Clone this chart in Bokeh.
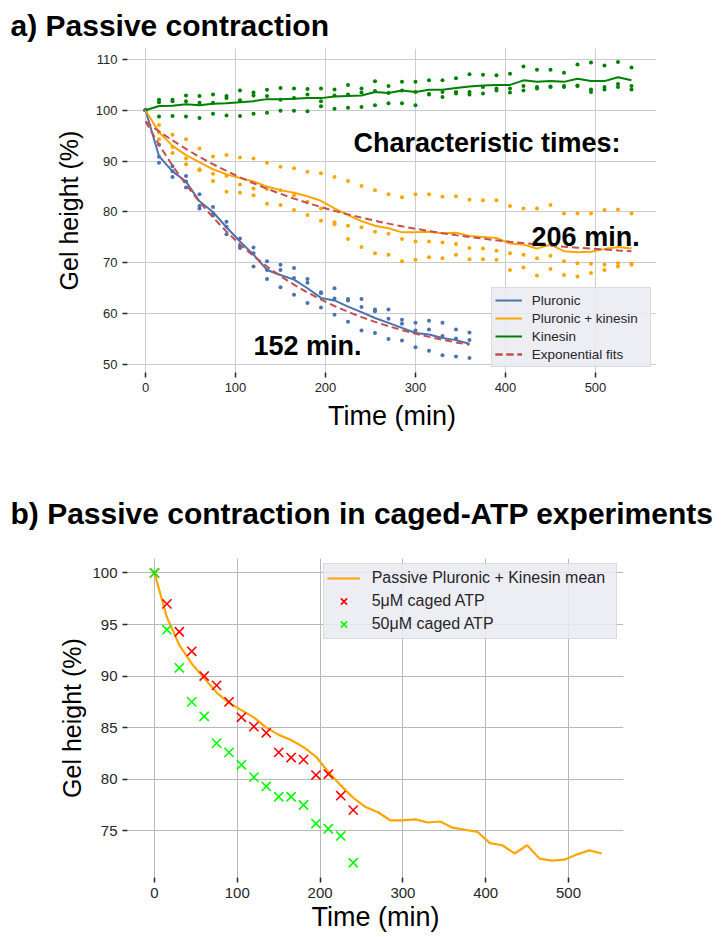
from bokeh.plotting import figure
from bokeh.models import Range1d, Legend, LegendItem, Label
from bokeh.layouts import column
from bokeh.embed import file_html
from bokeh.resources import INLINE

FONT = "Liberation Sans"
TXT = "#262626"

# ---------------- data: panel a ----------------
time_full = [0, 15, 30, 45, 60, 75, 90, 105, 120, 135, 150, 165, 180, 195, 210, 225, 240, 255,
             270, 285, 300, 315, 330, 345, 360, 375, 390, 405, 420, 435, 450, 465, 480, 495, 510, 525, 540]
time_pluronic = [0, 15, 30, 45, 60, 75, 90, 105, 120, 135, 150, 165, 180, 195, 210, 225, 240, 255,
                 270, 285, 300, 315, 330, 345, 360]

pluronic_mean = [100, 91.0, 88.0, 86.0, 82.1, 80.0, 77.0, 74.2, 71.6, 68.6, 67.6, 66.7, 65.0, 63.1,
                 62.6, 61.4, 60.3, 59.15, 58.2, 57.2, 56.2, 55.9, 55.2, 54.8, 54.1]
pluronic_rep1 = [100, 93.3, 89.0, 87.1, 83.5, 81.0, 78.1, 74.8, 73.0, 70.3, 69.6, 69.0, 66.8, 64.2,
                 65.0, 62.9, 62.9, 60.8, 60.8, 58.8, 58.2, 58.6, 58.2, 56.9, 56.3]
pluronic_rep2 = [100, 90.85, 88.0, 86.0, 81.2, 79.7, 77.1, 73.3, 71.9, 68.6, 68.6, 67.0, 66.1, 64.0,
                 63.0, 62.6, 61.3, 60.5, 59.0, 58.0, 56.7, 56.9, 55.6, 55.1, 54.8]
pluronic_rep3 = [100, 89.7, 86.9, 84.8, 80.7, 79.3, 75.6, 72.9, 69.3, 66.8, 65.2, 63.7, 62.1, 61.2,
                 59.8, 58.4, 56.7, 56.2, 55.0, 54.7, 53.4, 52.7, 51.8, 51.6, 51.3]
pluronic_fit = [97.8, 93.24, 89.12, 85.38, 82.0, 78.93, 76.15, 73.63, 71.35, 69.28, 67.40, 65.71,
                64.17, 62.77, 61.51, 60.37, 59.33, 58.39, 57.54, 56.77, 56.07, 55.44, 54.87, 54.35, 53.88]

kinesin_pl_mean = [100, 95.7, 93.0, 91.2, 89.8, 88.4, 87.4, 86.7, 86.0, 85.0, 84.3, 83.8, 83.1, 82.2,
                   80.7, 79.4, 78.2, 77.3, 76.8, 76.0, 76.0, 76.1, 75.8, 75.9, 75.3, 75.1, 74.9, 73.8,
                   73.6, 72.8, 73.6, 72.3, 72.1, 72.2, 72.7, 73.1, 72.8]
kinesin_pl_rep1 = [100, 97.1, 95.2, 94.3, 92.5, 90.9, 91.2, 90.7, 90.5, 89.7, 88.9, 88.6, 87.9, 87.6,
                   86.9, 86.1, 85.1, 84.3, 83.5, 82.9, 83.5, 83.5, 83.0, 83.1, 82.4, 82.3, 82.3, 81.2,
                   80.7, 80.7, 81.4, 79.7, 79.7, 79.7, 80.4, 80.5, 79.7]
kinesin_pl_rep2 = [100, 95.7, 92.8, 90.5, 88.4, 87.5, 87.1, 85.4, 84.6, 84.5, 84.3, 83.3, 82.0, 80.7,
                   78.0, 77.3, 77.0, 76.1, 75.7, 74.7, 74.2, 74.2, 74.0, 73.7, 72.9, 72.8, 72.4, 71.9,
                   71.6, 70.9, 71.4, 70.3, 69.9, 69.8, 69.6, 69.9, 69.8]
kinesin_pl_rep3 = [100, 94.3, 91.6, 89.4, 88.2, 86.1, 84.0, 83.8, 83.3, 81.6, 81.4, 80.4, 79.4, 78.3,
                   77.6, 74.7, 73.1, 71.9, 71.6, 70.3, 70.6, 71.1, 70.9, 71.6, 70.7, 70.7, 70.6, 68.6,
                   69.1, 67.5, 68.8, 67.6, 67.3, 68.0, 68.6, 69.3, 69.6]
kinesin_pl_fit = [97.80, 95.87, 94.07, 92.40, 90.85, 89.41, 88.07, 86.82, 85.66, 84.58, 83.58, 82.64,
                  81.78, 80.97, 80.22, 79.53, 78.88, 78.28, 77.71, 77.19, 76.71, 76.26, 75.84, 75.45,
                  75.09, 74.75, 74.44, 74.15, 73.88, 73.63, 73.39, 73.18, 72.98, 72.79, 72.61, 72.45, 72.30]

kinesin_mean = [100, 100.85, 100.9, 101.2, 101.0, 101.3, 101.4, 101.6, 101.8, 102.2, 102.2, 102.3,
                102.4, 102.4, 102.7, 102.8, 102.9, 103.6, 103.4, 103.9, 103.6, 104.05, 104.05, 104.4,
                104.7, 104.9, 105.0, 105.0, 105.9, 105.6, 105.75, 105.6, 106.2, 105.75, 105.75, 106.5, 105.9]
kinesin_rep1 = [100, 102.1, 102.1, 102.9, 102.8, 103.1, 102.8, 103.9, 103.5, 104.05, 104.4, 104.3,
                104.2, 104.3, 104.1, 105.0, 104.3, 105.7, 104.8, 105.6, 105.6, 105.9, 105.9, 106.3,
                107.1, 107.0, 106.9, 107.2, 108.6, 108.0, 108.0, 107.4, 109.0, 109.4, 108.8, 109.5, 108.4]
kinesin_rep2 = [100, 101.6, 101.8, 101.8, 101.5, 101.5, 102.4, 102.0, 102.9, 102.8, 102.1, 102.4,
                103.1, 101.8, 102.9, 103.1, 103.5, 103.8, 103.4, 103.9, 103.6, 103.1, 103.6, 103.6,
                103.6, 104.6, 104.3, 104.3, 104.8, 104.3, 104.6, 104.6, 104.8, 104.1, 104.6, 105.2, 104.8]
kinesin_rep3 = [100, 98.8, 98.9, 98.8, 98.5, 99.35, 99.0, 98.9, 99.35, 99.5, 99.9, 99.9, 99.8,
                100.8, 100.3, 100.5, 100.65, 101.0, 101.4, 101.4, 101.0, 103.2, 102.6, 103.3, 103.1,
                103.3, 103.9, 103.5, 103.9, 104.6, 104.7, 104.8, 104.9, 103.6, 104.1, 104.6, 104.1]

x_ticks = [0, 100, 200, 300, 400, 500]
y_ticks_a = [50, 60, 70, 80, 90, 100, 110]
y_ticks_b = [75, 80, 85, 90, 95, 100]

# ---------------- data: panel b ----------------
time_caged = [0, 15, 30, 45, 60, 75, 90, 105, 120, 135, 150, 165, 180, 195, 210, 225, 240]
caged_5uM = [100, 97.0, 94.3, 92.4, 90.0, 89.1, 87.5, 86.0, 85.1, 84.5, 82.6, 82.1, 81.9, 80.4,
             80.5, 78.4, 77.0]
caged_50uM = [100, 94.5, 90.8, 87.5, 86.1, 83.5, 82.6, 81.4, 80.2, 79.3, 78.3, 78.3, 77.5, 75.7,
              75.2, 74.5, 71.9]

BLUE = "#4c72b0"
ORANGE = "#ffa500"
GREEN = "#008000"
RED = "#c44e52"

BORDER_LEFT = 127


def style(p, tick_size, grid_color):
    p.background_fill_color = "white"
    p.border_fill_color = "white"
    p.outline_line_color = None
    for ax in (p.xaxis[0], p.yaxis[0]):
        ax.axis_line_color = None
        ax.major_tick_in = 0
        ax.major_tick_out = 5
        ax.major_tick_line_width = 1.5
        ax.major_tick_line_color = TXT
        ax.minor_tick_line_color = None
        ax.major_label_text_font = FONT
        ax.major_label_text_font_size = tick_size
        ax.major_label_text_color = TXT
        ax.axis_label_text_font = FONT
        ax.axis_label_text_font_style = "normal"
        ax.axis_label_text_color = "black"
    p.xaxis.axis_label_text_font_size = "27px"
    p.yaxis.axis_label_text_font_size = "25px"
    p.grid.grid_line_color = grid_color
    p.grid.grid_line_width = 1
    p.title.text_font = FONT
    p.title.text_font_size = "30px"
    p.title.text_font_style = "bold"
    p.title.text_color = "black"
    p.title.align = "left"
    p.title.offset = 10 - BORDER_LEFT


# ---------------- panel a ----------------
p1 = figure(frame_width=529, frame_height=324, x_range=Range1d(-20, 567.8),
            y_range=Range1d(48.43, 112.16), output_backend="svg", toolbar_location=None,
            min_border_left=BORDER_LEFT, min_border_right=62, min_border_top=48, min_border_bottom=68,
            title="a) Passive contraction")
style(p1, "13px", "#cccccc")
p1.title.standoff = 13
p1.xaxis.ticker = x_ticks
p1.yaxis.ticker = y_ticks_a
p1.xaxis.axis_label = "Time (min)"
p1.yaxis.axis_label = "Gel height (%)"
p1.xaxis.axis_label_standoff = 6
p1.yaxis.axis_label_standoff = 10

for reps, tt, col in ((kinesin_pl_rep1, time_full, ORANGE), (kinesin_pl_rep2, time_full, ORANGE),
                      (kinesin_pl_rep3, time_full, ORANGE), (kinesin_rep1, time_full, GREEN),
                      (kinesin_rep2, time_full, GREEN), (kinesin_rep3, time_full, GREEN),
                      (pluronic_rep1, time_pluronic, BLUE), (pluronic_rep2, time_pluronic, BLUE),
                      (pluronic_rep3, time_pluronic, BLUE)):
    p1.scatter(tt, reps, size=4, color=col, line_color=None)

r_pl = p1.line(time_pluronic, pluronic_mean, color=BLUE, line_width=2)
r_kpl = p1.line(time_full, kinesin_pl_mean, color=ORANGE, line_width=2)
r_k = p1.line(time_full, kinesin_mean, color=GREEN, line_width=2)
r_f1 = p1.line(time_pluronic, pluronic_fit, color=RED, line_width=2, line_dash="7 4")
r_f2 = p1.line(time_full, kinesin_pl_fit, color=RED, line_width=2, line_dash="7 4")

for txt, xx, yy in (("Characteristic times:", 231, 93.5), ("206 min.", 429, 75.0), ("152 min.", 120, 53.6)):
    p1.add_layout(Label(x=xx, y=yy, text=txt, text_font=FONT, text_font_size="27px",
                        text_font_style="bold", text_color="black", text_baseline="alphabetic"))

leg1 = Legend(items=[LegendItem(label="Pluronic", renderers=[r_pl]),
                     LegendItem(label="Pluronic + kinesin", renderers=[r_kpl]),
                     LegendItem(label="Kinesin", renderers=[r_k]),
                     LegendItem(label="Exponential fits", renderers=[r_f1, r_f2])],
              location=(490.7 - BORDER_LEFT, 5))
leg1.label_text_font = FONT
leg1.label_text_font_size = "13.5px"
leg1.label_text_color = TXT
leg1.background_fill_color = "#eaeaf2"
leg1.background_fill_alpha = 0.85
leg1.border_line_color = "#cccccc"
leg1.glyph_width = 27
leg1.glyph_height = 18
leg1.label_height = 18
leg1.label_width = 115
leg1.spacing = 0
leg1.padding = 3
leg1.margin = 0
leg1.label_standoff = 10
p1.add_layout(leg1)

# ---------------- panel b ----------------
p2 = figure(frame_width=496, frame_height=319, x_range=Range1d(-32.6, 566.4),
            y_range=Range1d(70.47, 101.4), output_backend="svg", toolbar_location=None,
            min_border_left=BORDER_LEFT, min_border_right=95, min_border_top=118, min_border_bottom=51,
            title="b) Passive contraction in caged-ATP experiments")
style(p2, "15px", "#b8b8b8")
p2.title.standoff = 57
p2.xaxis.ticker = x_ticks
p2.yaxis.ticker = y_ticks_b
p2.xaxis.axis_label = "Time (min)"
p2.yaxis.axis_label = "Gel height (%)"
p2.xaxis.axis_label_standoff = 1
p2.yaxis.axis_label_standoff = 3

r_mean = p2.line(time_full, kinesin_pl_mean, color=ORANGE, line_width=2.2)
r_5 = p2.scatter(time_caged, caged_5uM, marker="x", size=13, line_width=1.6, color="#ff0000")
r_50 = p2.scatter(time_caged, caged_50uM, marker="x", size=13, line_width=1.6, color="#00ff00")

leg2 = Legend(items=[LegendItem(label="Passive Pluronic + Kinesin mean", renderers=[r_mean]),
                     LegendItem(label="5\u03bcM caged ATP", renderers=[r_5]),
                     LegendItem(label="50\u03bcM caged ATP", renderers=[r_50])],
              location=(322.7 - BORDER_LEFT, 238))
leg2.label_text_font = FONT
leg2.label_text_font_size = "16px"
leg2.label_text_color = TXT
leg2.background_fill_color = "#eaeaf2"
leg2.background_fill_alpha = 0.85
leg2.border_line_color = "#cccccc"
leg2.glyph_width = 33
leg2.glyph_height = 22
leg2.label_height = 22
leg2.label_width = 241
leg2.spacing = 1
leg2.padding = 3
leg2.margin = 0
leg2.label_standoff = 12
p2.add_layout(leg2)

layout = column(p1, p2)
open("out.html", "w").write(file_html(layout, INLINE))
